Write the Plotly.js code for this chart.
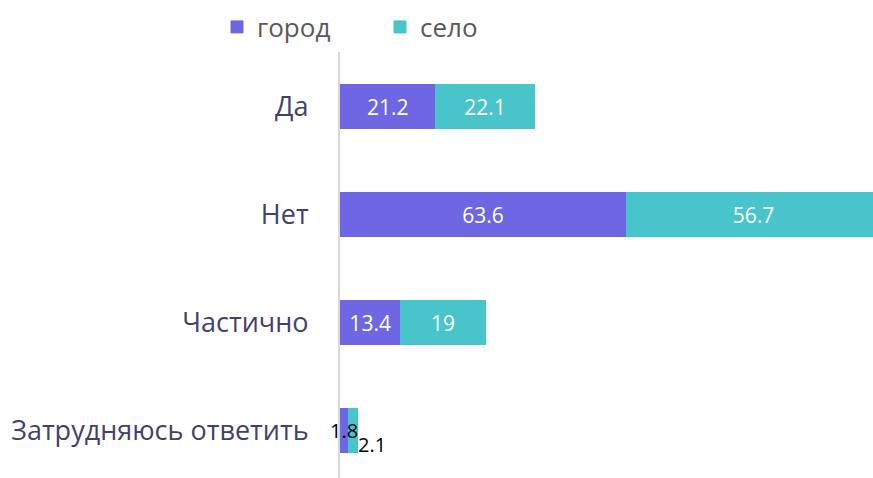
<!DOCTYPE html>
<html><head><meta charset="utf-8">
<script src="https://cdn.plot.ly/plotly-3.0.1.min.js"></script>
<style>html,body{margin:0;padding:0;background:#fff}</style>
</head><body><div id="chart" style="width:873px;height:478px"></div>
<script>
const categories = ["Да", "Нет", "Частично", "Затрудняюсь ответить"];
const cityValues = [21.2, 63.6, 13.4, 1.8];
const villageValues = [22.1, 56.7, 19, 2.1];
const seriesNames = ["город", "село"];
const colors = ["#6e66e3", "#48c4cb"];

const FONT = "Open Sans, Segoe UI, sans-serif";
const SMALL = 5;
function pos(vals){ return vals.map(v => v < SMALL ? "none" : "inside"); }

const traces = [
  {type:"bar", orientation:"h", name:seriesNames[0], y:categories, x:cityValues,
   marker:{color:colors[0], line:{color:colors[0], width:1}}, text:cityValues.map(String), textposition:pos(cityValues),
   insidetextanchor:"middle", insidetextfont:{color:"#ffffff", size:21, family:FONT},
   hoverinfo:"none"},
  {type:"bar", orientation:"h", name:seriesNames[1], y:categories, x:villageValues,
   marker:{color:colors[1], line:{color:colors[1], width:1}}, text:villageValues.map(String), textposition:pos(villageValues),
   insidetextanchor:"middle", insidetextfont:{color:"#ffffff", size:21, family:FONT},
   hoverinfo:"none"}
];

const annotations = [];
categories.forEach((c, i) => {
  if (cityValues[i] < SMALL) {
    annotations.push({x: cityValues[i]/2, y: c, xref:"x", yref:"y", text:String(cityValues[i]),
      showarrow:false, font:{color:"#000", size:20, family:FONT}, xanchor:"center", yanchor:"middle"});
  }
  if (villageValues[i] < SMALL) {
    annotations.push({x: cityValues[i] + villageValues[i], y: c, xref:"x", yref:"y", text:String(villageValues[i]),
      showarrow:false, font:{color:"#000", size:20, family:FONT}, xanchor:"left", yanchor:"middle", yshift:-14, xshift:-2});
  }
});

const layout = {
  width:873, height:478,
  margin:{l:340, r:0, t:52, b:0},
  barmode:"stack", bargap:0.6,
  paper_bgcolor:"#fff", plot_bgcolor:"#fff",
  font:{family:FONT},
  showlegend:true,
  legend:{orientation:"h", x:217/873, xref:"container", xanchor:"left", y:1-27/478, yref:"container", yanchor:"middle",
    font:{size:26, color:"#595959", family:FONT}, itemwidth:30, entrywidth:118, entrywidthmode:"pixels", traceorder:"normal"},
  xaxis:{range:[0, 118.5], visible:false, showgrid:false, zeroline:false, fixedrange:true},
  yaxis:{type:"category", range:[3.44, -0.505], showline:true, linecolor:"#d9d9d9", linewidth:2,
    showgrid:false, zeroline:false, ticks:"", ticklabelstandoff:24,
    tickfont:{size:27, color:"#453f6c", family:FONT}},
  annotations: annotations
};
Plotly.newPlot("chart", traces, layout, {displayModeBar:false, staticPlot:true});
</script></body></html>
